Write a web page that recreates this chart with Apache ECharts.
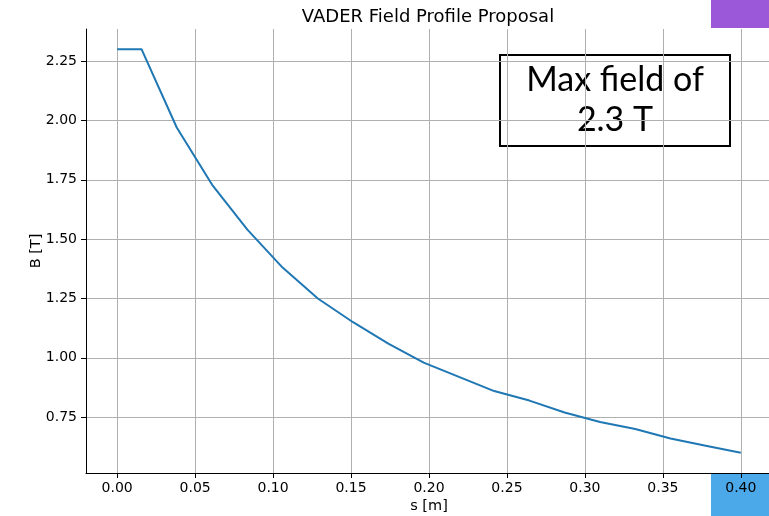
<!DOCTYPE html>
<html>
<head>
<meta charset="utf-8">
<title>VADER Field Profile Proposal</title>
<script src="https://cdn.jsdelivr.net/npm/echarts@6/dist/echarts.min.js"></script>
<style>
  html, body { margin: 0; padding: 0; background: #fff; }
  #main { width: 769px; height: 516px; }
</style>
</head>
<body>
<div id="main"></div>
<script>
// s positions [m] and field values [T]
const sValues = [0, 0.0156, 0.0382, 0.0608, 0.0835, 0.1061, 0.1287, 0.1513, 0.1739,
  0.1966, 0.2192, 0.2418, 0.2644, 0.2870, 0.3097, 0.3323, 0.3549, 0.3775, 0.4000];
const bValues = [2.30, 2.30, 1.97, 1.73, 1.54, 1.38, 1.25, 1.15, 1.06,
  0.98, 0.92, 0.86, 0.82, 0.77, 0.73, 0.70, 0.66, 0.63, 0.60];

const xTicks = [0, 0.05, 0.10, 0.15, 0.20, 0.25, 0.30, 0.35, 0.40];
const yTicks = [0.75, 1.00, 1.25, 1.50, 1.75, 2.00, 2.25];

const font = 'DejaVu Sans';
const chart = echarts.init(document.getElementById('main'));

const data = sValues.map((s, i) => [s, bValues[i]]);

chart.setOption({
  animation: false,
  backgroundColor: '#fff',
  title: {
    text: 'VADER Field Profile Proposal',
    left: 423,
    top: 3,
    textAlign: 'center',
    textStyle: { fontFamily: font, fontSize: 18, fontWeight: 'normal', color: '#000' }
  },
  grid: { left: 86, top: 29, width: 686, height: 444, containLabel: false, outerBoundsMode: 'none' },
  xAxis: {
    type: 'value',
    min: -0.02,
    max: 0.42,
    name: 's [m]',
    nameLocation: 'middle',
    nameGap: 26,
    nameMoveOverlap: false,
    nameTextStyle: { fontFamily: font, fontSize: 14.5, color: '#000' },
    axisLine: { onZero: false, lineStyle: { color: '#000', width: 1 } },
    axisTick: { show: true, length: 5, customValues: xTicks, lineStyle: { color: '#000' } },
    axisLabel: {
      customValues: xTicks,
      margin: 8,
      fontFamily: font, fontSize: 14, color: '#000',
      formatter: v => v.toFixed(2)
    },
    splitLine: { show: true, lineStyle: { color: '#b0b0b0', width: 1 } }
  },
  yAxis: {
    type: 'value',
    min: 0.515,
    max: 2.385,
    name: 'B [T]',
    nameLocation: 'middle',
    nameGap: 42,
    nameRotate: 90,
    nameMoveOverlap: false,
    nameTextStyle: { fontFamily: font, fontSize: 14.5, color: '#000' },
    axisLine: { show: true, onZero: false, lineStyle: { color: '#000', width: 1 } },
    axisTick: { show: true, length: 5, customValues: yTicks, lineStyle: { color: '#000' } },
    axisLabel: {
      customValues: yTicks,
      margin: 9,
      fontFamily: font, fontSize: 14, color: '#000',
      formatter: v => v.toFixed(2)
    },
    splitLine: { show: true, lineStyle: { color: '#b0b0b0', width: 1 } }
  },
  series: [{
    type: 'line',
    data: data,
    showSymbol: false,
    lineStyle: { color: '#1f77b4', width: 2 },
    clip: true
  }],
  graphic: [
    {
      type: 'group',
      left: 499,
      top: 54,
      children: [
        {
          type: 'rect',
          shape: { x: 0, y: 0, width: 230, height: 91 },
          style: { fill: '#fff', stroke: '#000', lineWidth: 2 }
        },
        {
          type: 'text',
          x: 115, y: 25,
          style: { text: 'Max field of', fontFamily: 'Lato', fontSize: 34, fill: '#000', align: 'center', verticalAlign: 'middle' }
        },
        {
          type: 'text',
          x: 115, y: 65,
          style: { text: '2.3 T', fontFamily: 'Lato', fontSize: 34, fill: '#000', align: 'center', verticalAlign: 'middle' }
        }
      ]
    },
    {
      type: 'rect',
      left: 711, top: 0,
      shape: { width: 58, height: 28 },
      style: { fill: '#9b58d8' }
    },
    {
      type: 'rect',
      left: 711, top: 474,
      shape: { width: 58, height: 42 },
      style: { fill: '#4ba9ea' }
    }
  ]
});
</script>
</body>
</html>
